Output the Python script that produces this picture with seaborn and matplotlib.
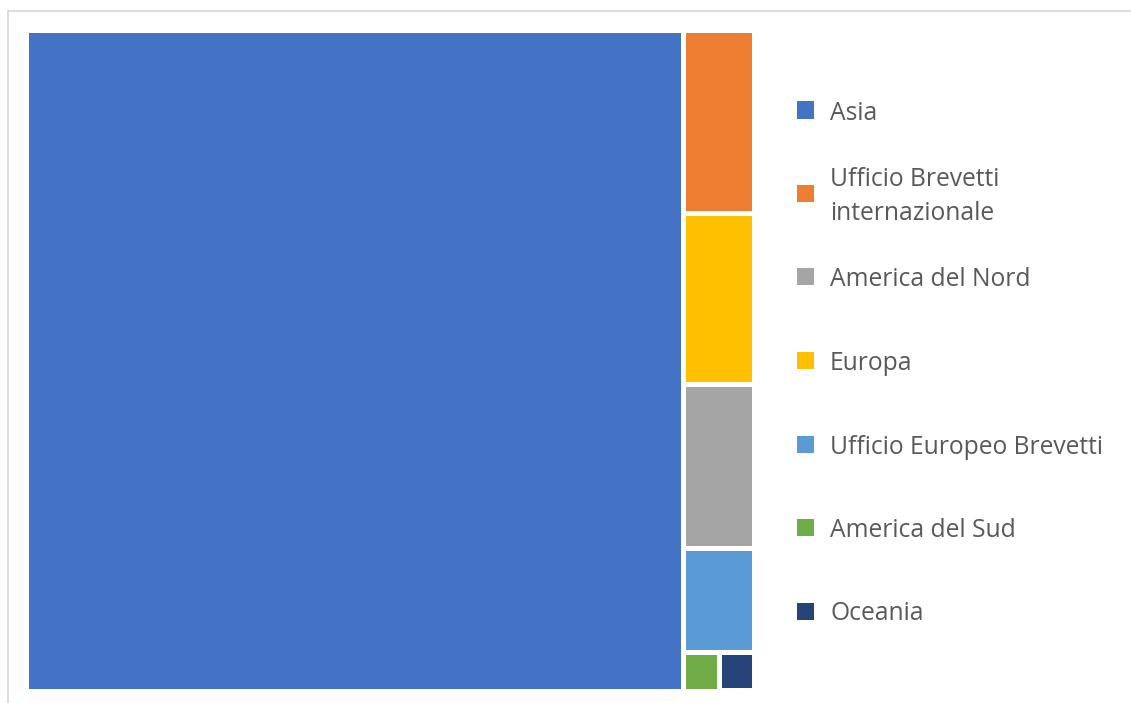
import matplotlib
matplotlib.use("Agg")
import matplotlib.pyplot as plt
from matplotlib.patches import Rectangle
import seaborn as sns

# Patent filings by region (legend / data order)
categories = [
    "Asia",
    "Ufficio Brevetti\ninternazionale",
    "America del Nord",
    "Europa",
    "Ufficio Europeo Brevetti",
    "America del Sud",
    "Oceania",
]
values = [9025, 270, 242, 253, 153, 29, 28]
colors = ["#4472C4", "#ED7D31", "#A5A5A5", "#FFC000", "#5B9BD5", "#70AD47", "#264478"]

sns.set_theme(style="white")
plt.rcParams["font.family"] = ["Open Sans", "DejaVu Sans"]

FIG_W, FIG_H = 1131, 703
fig = plt.figure(figsize=(FIG_W / 100, FIG_H / 100), dpi=100)
fig.patch.set_facecolor("white")


def worst(row, side):
    s = sum(row)
    return max(max(side * side * r / (s * s), (s * s) / (side * side * r)) for r in row)


def squarify(areas, x, y, w, h):
    """Squarified treemap layout; areas must be sorted descending and sum to w*h."""
    rects = []
    items = list(areas)
    while items:
        side = min(w, h)
        row = [items[0]]
        i = 1
        while i < len(items) and worst(row + [items[i]], side) <= worst(row, side):
            row.append(items[i])
            i += 1
        s = sum(row)
        if w >= h:
            cw = s / h
            yy = y
            for r in row:
                rh = r / cw
                rects.append((x, yy, cw, rh))
                yy += rh
            x += cw
            w -= cw
        else:
            rh = s / w
            xx = x
            for r in row:
                cw = r / rh
                rects.append((xx, y, cw, rh))
                xx += cw
            y += rh
            h -= rh
        items = items[i:]
    return rects


# Treemap area in pixel units
left_px, top_px, W, H = 25.5, 29.5, 728.0, 661.0
ax = fig.add_axes([left_px / FIG_W, 1 - (top_px + H) / FIG_H, W / FIG_W, H / FIG_H])

order = sorted(range(len(values)), key=lambda k: -values[k])
total = sum(values)
areas = [values[k] * W * H / total for k in order]
rects = squarify(areas, 0, 0, W, H)
for k, (rx, ry, rw, rh) in zip(order, rects):
    ax.add_patch(Rectangle((rx, ry), rw, rh, facecolor=colors[k],
                           edgecolor="white", linewidth=3.6))
ax.set_xlim(0, W)
ax.set_ylim(H, 0)
ax.set_axis_off()

# Chart-area frame
fig.add_artist(Rectangle((8 / FIG_W, -0.1), 1.2, (FIG_H - 11) / FIG_H + 0.1,
                         transform=fig.transFigure, facecolor="none",
                         edgecolor="#D9D9D9", linewidth=1.3))

# Legend
sq = 17
for i, (lab, col) in enumerate(zip(categories, colors)):
    cy = 110 + i * 83.5
    fig.add_artist(Rectangle((797 / FIG_W, 1 - (cy + sq / 2) / FIG_H), sq / FIG_W, sq / FIG_H,
                             transform=fig.transFigure, facecolor=col, edgecolor="none"))
    fig.text(830 / FIG_W, 1 - (cy + 3) / FIG_H, lab, ha="left", va="center",
             fontsize=17.7, color="#595959", linespacing=1.5)

fig.savefig("out.png", dpi=100, facecolor="white")
